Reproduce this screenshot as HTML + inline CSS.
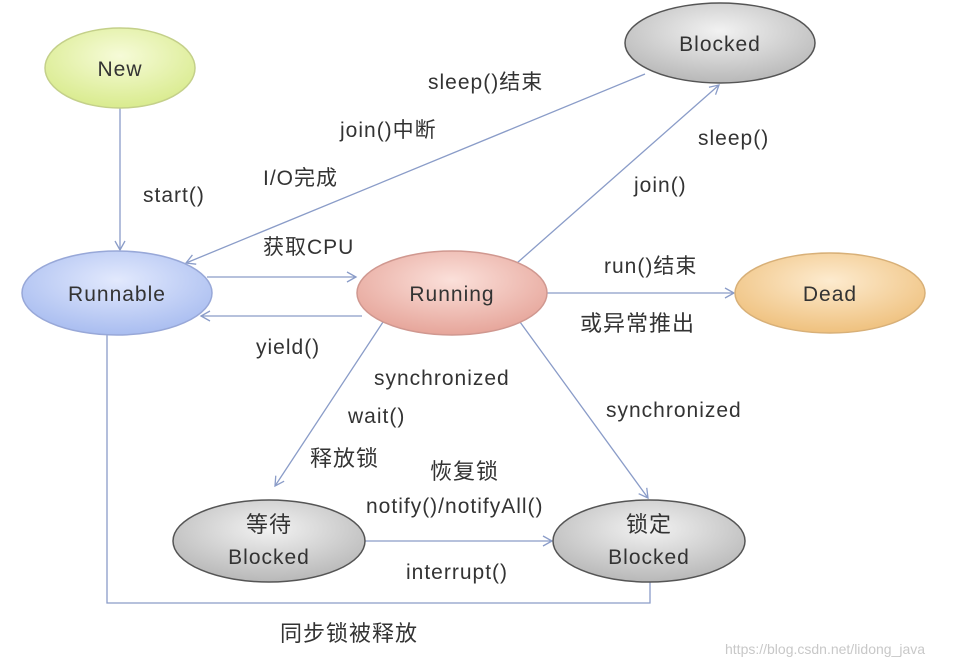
<!DOCTYPE html>
<html><head><meta charset="utf-8"><style>
html,body{margin:0;padding:0;background:#fff;}
svg text{font-family:"Liberation Sans","Noto Sans CJK SC",sans-serif;fill:#333;letter-spacing:1px;}
</style></head><body>
<svg width="961" height="665" viewBox="0 0 961 665" xmlns="http://www.w3.org/2000/svg">
<defs>
<radialGradient id="gN" cx="50%" cy="35%" r="65%"><stop offset="0" stop-color="#f6fbd8"/><stop offset="1" stop-color="#d9eb8e"/></radialGradient>
<radialGradient id="gR" cx="50%" cy="35%" r="65%"><stop offset="0" stop-color="#e2e9fd"/><stop offset="1" stop-color="#a9bdf0"/></radialGradient>
<radialGradient id="gU" cx="50%" cy="35%" r="65%"><stop offset="0" stop-color="#fbe0da"/><stop offset="1" stop-color="#e6a59a"/></radialGradient>
<radialGradient id="gD" cx="50%" cy="35%" r="65%"><stop offset="0" stop-color="#fdebcf"/><stop offset="1" stop-color="#efc17e"/></radialGradient>
<radialGradient id="gG" cx="50%" cy="35%" r="65%"><stop offset="0" stop-color="#f2f2f2"/><stop offset="1" stop-color="#b8b8b8"/></radialGradient>
<marker id="a" markerWidth="12" markerHeight="12" refX="10" refY="6" orient="auto" markerUnits="userSpaceOnUse"><path d="M1,1 L10,6 L1,11" fill="none" stroke="#8a9cc8" stroke-width="1.3"/></marker>
</defs>
<g stroke="#8a9cc8" stroke-width="1.3" fill="none">
<line x1="120" y1="108" x2="120" y2="250" marker-end="url(#a)"/>
<line x1="645" y1="74" x2="186" y2="263" marker-end="url(#a)"/>
<line x1="207" y1="277" x2="356" y2="277" marker-end="url(#a)"/>
<line x1="362" y1="316" x2="201" y2="316" marker-end="url(#a)"/>
<line x1="517" y1="263" x2="719" y2="85" marker-end="url(#a)"/>
<line x1="547" y1="293" x2="734" y2="293" marker-end="url(#a)"/>
<line x1="383" y1="322" x2="275" y2="486" marker-end="url(#a)"/>
<line x1="520" y1="322" x2="648" y2="498" marker-end="url(#a)"/>
<line x1="365" y1="541" x2="552" y2="541" marker-end="url(#a)"/>
<polyline points="107,333 107,603 650,603 650,582"/>
</g>
<g stroke="#777" stroke-width="1.5">
<ellipse cx="120" cy="68" rx="75" ry="40" fill="url(#gN)" stroke="#c4d08a"/>
<ellipse cx="720" cy="43" rx="95" ry="40" fill="url(#gG)" stroke="#555"/>
<ellipse cx="117" cy="293" rx="95" ry="42" fill="url(#gR)" stroke="#98a8d8"/>
<ellipse cx="452" cy="293" rx="95" ry="42" fill="url(#gU)" stroke="#d09890"/>
<ellipse cx="830" cy="293" rx="95" ry="40" fill="url(#gD)" stroke="#d8b078"/>
<ellipse cx="269" cy="541" rx="96" ry="41" fill="url(#gG)" stroke="#555"/>
<ellipse cx="649" cy="541" rx="96" ry="41" fill="url(#gG)" stroke="#555"/>
</g>
<g font-size="21" text-anchor="middle">
<text x="120" y="76">New</text>
<text x="720" y="51">Blocked</text>
<text x="117" y="301">Runnable</text>
<text x="452" y="301">Running</text>
<text x="830" y="301">Dead</text>
<text x="269" y="532" font-size="22">等待</text>
<text x="269" y="564">Blocked</text>
<text x="649" y="532" font-size="22">锁定</text>
<text x="649" y="564">Blocked</text>
</g>
<g font-size="21">
<text x="143" y="202">start()</text>
<text x="428" y="89">sleep()结束</text>
<text x="340" y="137">join()中断</text>
<text x="263" y="185">I/O完成</text>
<text x="263" y="254">获取CPU</text>
<text x="256" y="354">yield()</text>
<text x="698" y="145">sleep()</text>
<text x="634" y="192">join()</text>
<text x="604" y="273">run()结束</text>
<text x="580" y="331" font-size="22">或异常推出</text>
<text x="374" y="385">synchronized</text>
<text x="348" y="423">wait()</text>
<text x="310" y="466" font-size="22">释放锁</text>
<text x="430" y="479" font-size="22">恢复锁</text>
<text x="366" y="513">notify()/notifyAll()</text>
<text x="606" y="417">synchronized</text>
<text x="406" y="579">interrupt()</text>
<text x="280" y="641" font-size="22">同步锁被释放</text>
</g>
<text x="725" y="654" font-size="14" style="fill:#c8c8c8;letter-spacing:0">https://blog.csdn.net/lidong_java</text>
</svg>
</body></html>
